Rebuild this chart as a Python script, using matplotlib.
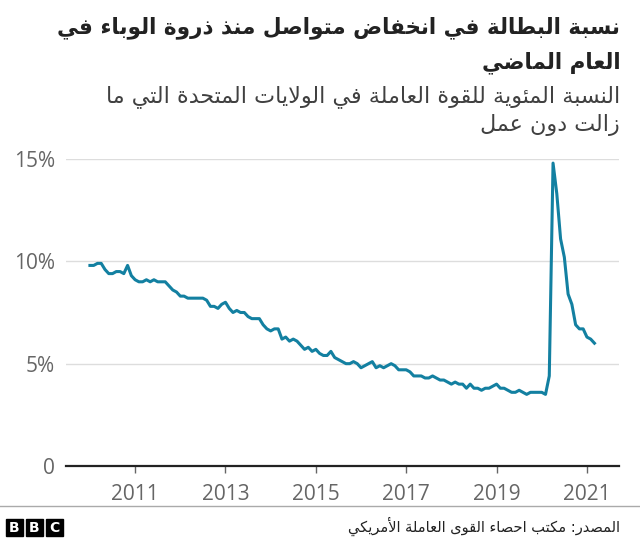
import numpy as np
import matplotlib
matplotlib.use("Agg")
from matplotlib import pyplot as plt
from matplotlib.patches import Rectangle

# monthly US unemployment rate, Jan 2010 - Mar 2021
rate_2010_2014 = [9.8, 9.8, 9.9, 9.9, 9.6, 9.4, 9.4, 9.5, 9.5, 9.4, 9.8, 9.3,
                  9.1, 9.0, 9.0, 9.1, 9.0, 9.1, 9.0, 9.0, 9.0, 8.8, 8.6, 8.5,
                  8.3, 8.3, 8.2, 8.2, 8.2, 8.2, 8.2, 8.1, 7.8, 7.8, 7.7, 7.9,
                  8.0, 7.7, 7.5, 7.6, 7.5, 7.5, 7.3, 7.2, 7.2, 7.2, 6.9, 6.7,
                  6.6, 6.7, 6.7, 6.2, 6.3, 6.1, 6.2, 6.1, 5.9, 5.7, 5.8, 5.6]
rate_2015_2019 = [5.7, 5.5, 5.4, 5.4, 5.6, 5.3, 5.2, 5.1, 5.0, 5.0, 5.1, 5.0,
                  4.8, 4.9, 5.0, 5.1, 4.8, 4.9, 4.8, 4.9, 5.0, 4.9, 4.7, 4.7,
                  4.7, 4.6, 4.4, 4.4, 4.4, 4.3, 4.3, 4.4, 4.3, 4.2, 4.2, 4.1,
                  4.0, 4.1, 4.0, 4.0, 3.8, 4.0, 3.8, 3.8, 3.7, 3.8, 3.8, 3.9,
                  4.0, 3.8, 3.8, 3.7, 3.6, 3.6, 3.7, 3.6, 3.5, 3.6, 3.6, 3.6]
rate_2020_2021 = [3.6, 3.5, 4.4, 14.8, 13.3, 11.1, 10.2, 8.4, 7.9, 6.9, 6.7, 6.7,
                  6.3, 6.2, 6.0]
start_year = 2010

year_ticks = [2011, 2013, 2015, 2017, 2019, 2021]
pct_ticks = [0, 5, 10, 15]
pct_labels = ["0", "5%", "10%", "15%"]

title_lines = ["نسبة البطالة في انخفاض متواصل منذ ذروة الوباء في", "العام الماضي"]
subtitle_lines = ["النسبة المئوية للقوة العاملة في الولايات المتحدة التي ما", "زالت دون عمل"]
source_text = "المصدر: مكتب احصاء القوى العاملة الأمريكي"


# --- tiny Arabic shaper (matplotlib does no shaping / RTL) ---
def _forms_table():
    letters = [chr(c) for c in range(0x0621, 0x063B)] + [chr(c) for c in range(0x0641, 0x064B)]
    right_only = set("آأؤإاةدذرزوى")
    table, code = {}, 0xFE80
    for ch in letters:
        n = 1 if ch == "ء" else (2 if ch in right_only else 4)
        table[ch] = (code, n)
        code += n
    return table

FORMS = _forms_table()
LAM_ALEF = {"ا": 0xFEFB, "أ": 0xFEF7, "إ": 0xFEF9, "آ": 0xFEF5}


def shape(text):
    out = []
    chars = list(text)
    i = 0
    prev_joins = False  # previous glyph connects forward
    while i < len(chars):
        ch = chars[i]
        if ch not in FORMS:
            out.append(ch)
            prev_joins = False
            i += 1
            continue
        nxt = chars[i + 1] if i + 1 < len(chars) else None
        if ch == "ل" and nxt in LAM_ALEF:
            out.append(chr(LAM_ALEF[nxt] + (1 if prev_joins else 0)))
            prev_joins = False
            i += 2
            continue
        code, n = FORMS[ch]
        jp = prev_joins and n > 1
        jn = n == 4 and nxt in FORMS and FORMS[nxt][1] > 1
        if n == 1:
            form = 0
        elif jp and jn:
            form = 3
        elif jn:
            form = 2
        elif jp:
            form = 1
        else:
            form = 0
        out.append(chr(code + form))
        prev_joins = jn
        i += 1
    return "".join(out)[::-1]


x = start_year + np.arange(len(rate_2010_2014) + len(rate_2015_2019) + len(rate_2020_2021)) / 12
rate = np.array(rate_2010_2014 + rate_2015_2019 + rate_2020_2021)

fig = plt.figure(figsize=(6.4, 5.43), dpi=100)
ax = fig.add_axes([0.1031, 0.1418, 0.8641, 0.5654])

ax.plot(x, rate, color="#1380A1", lw=2.2, clip_on=False, solid_joinstyle="round")

ax.set_xlim(2009.47, 2021.71)
ax.set_ylim(0, 15)
ax.set_yticks(pct_ticks)
ax.set_yticklabels(pct_labels)
ax.set_xticks(year_ticks)
ax.set_xticklabels([str(y) for y in year_ticks])

ax.grid(axis="y", color="#dddddd", lw=1)
ax.set_axisbelow(True)
for s in ["top", "right", "left"]:
    ax.spines[s].set_visible(False)
ax.spines["bottom"].set_color("#222222")
ax.spines["bottom"].set_linewidth(1.6)
ax.tick_params(axis="y", length=0, pad=8, labelsize=15, labelcolor="#666666")
ax.tick_params(axis="x", length=5, width=1, color="#666666", pad=8, labelsize=15, labelcolor="#666666")
for lab in ax.get_xticklabels() + ax.get_yticklabels():
    lab.set_family("Open Sans")

# titles
fig.text(0.969, 0.970, shape(title_lines[0]), ha="right", va="top", fontsize=15.5,
         fontweight="bold", family="DejaVu Sans", color="#222222")
fig.text(0.969, 0.905, shape(title_lines[1]), ha="right", va="top", fontsize=15.5,
         fontweight="bold", family="DejaVu Sans", color="#222222")
fig.text(0.969, 0.843, shape(subtitle_lines[0]), ha="right", va="top", fontsize=16,
         family="DejaVu Sans", color="#404040")
fig.text(0.969, 0.790, shape(subtitle_lines[1]), ha="right", va="top", fontsize=16,
         family="DejaVu Sans", color="#404040")

# footer
fig.add_artist(plt.Line2D([0, 1], [0.068, 0.068], color="#aaaaaa", lw=1, transform=fig.transFigure))
fig.text(0.969, 0.030, shape(source_text), ha="right", va="center", fontsize=10.5,
         family="DejaVu Sans", color="#222222")
bw, bh = 17 / 640, 17 / 543
for k, letter in enumerate("BBC"):
    x0 = (6 + k * 20) / 640
    y0 = 7 / 543
    fig.add_artist(Rectangle((x0, y0), bw, bh, transform=fig.transFigure, color="#000000"))
    fig.text(x0 + bw / 2, y0 + bh / 2, letter, ha="center", va="center", fontsize=10,
             fontweight="bold", color="white", family="DejaVu Sans")

fig.savefig("out.png", dpi=100)
